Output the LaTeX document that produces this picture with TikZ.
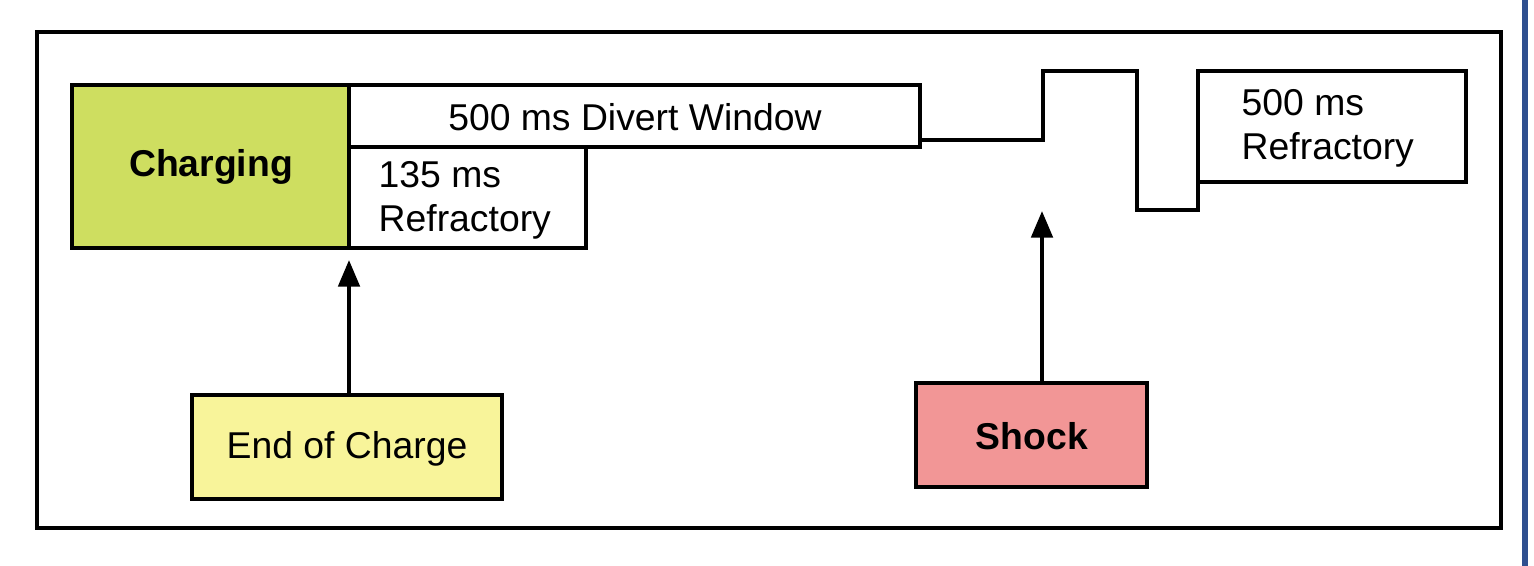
\documentclass[tikz,border=0pt]{standalone}
\usepackage{fontspec}
\setmainfont{Liberation Sans}
\usetikzlibrary{arrows.meta}
\begin{document}
\begin{tikzpicture}[x=0.75pt,y=-0.75pt,
  bx/.style={draw=black,line width=3pt},
  lbl/.style={font=\fontsize{28}{33}\selectfont},
  blbl/.style={font=\fontsize{28}{33}\selectfont\bfseries},
  arr/.style={line width=3pt,-{Triangle[length=20pt,width=16pt]}}]
\useasboundingbox (0,0) rectangle (1534,566);
\fill[white] (0,0) rectangle (1534,566);
\draw[line width=4pt,color={rgb,255:red,47;green,79;blue,143}] (1525,0) -- (1525,566);
\draw[bx] (37,32) rectangle (1501,528);
\draw[bx,fill={rgb,255:red,206;green,222;blue,96}] (72,85) rectangle (349,248);
\node[blbl] (chg) at (211,167) {Charging};
\draw[bx] (349,85) rectangle (920,147);
\node[lbl] (div) at (635,117) {500 ms Divert Window};
\draw[bx] (349,147) rectangle (586,248);
\node[lbl,anchor=west,align=left] (r135) at (374,200) {135 ms\\Refractory};
\draw[bx] (920,140) -- (1043,140) -- (1043,71) -- (1137,71) -- (1137,210) -- (1198,210) -- (1198,182);
\draw[bx] (1198,71) rectangle (1466,182);
\node[lbl,anchor=west,align=left] (r500) at (1237,128) {500 ms\\Refractory};
\draw[bx,fill={rgb,255:red,248;green,244;blue,154}] (192,395) rectangle (502,499);
\node[lbl] (eoc) at (347,449) {End of Charge};
\draw[bx,fill={rgb,255:red,242;green,150;blue,150}] (916,383) rectangle (1147,487);
\node[blbl] (shk) at (1032,436) {Shock};
\coordinate (a1) at (349,395); \coordinate (a1e) at (349,260);
\coordinate (a2) at (1042,383); \coordinate (a2e) at (1042,211);
\draw[arr] (a1) -- (a1e);
\draw[arr] (a2) -- (a2e);
\end{tikzpicture}
\end{document}
